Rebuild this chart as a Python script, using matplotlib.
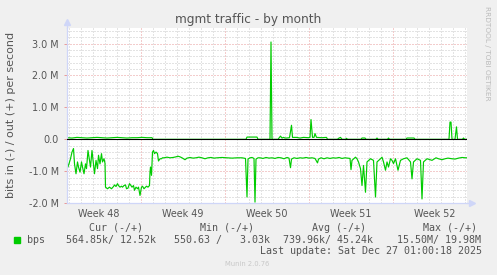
import matplotlib
matplotlib.use('Agg')
import matplotlib.pyplot as plt
import numpy as np

# time axis in hours from the left edge of the graph (2 h per pixel, 800 h shown)
# values in Mbit/s; "in" is drawn downwards, "out" upwards
in_pts = [
    (0, 0.66), (2, 0.87), (5, 0.71), (7, 0.61), (10, 0.40), (13, 0.29), (15, 0.77),
    (18, 1.08), (21, 0.71), (23, 0.87), (26, 1.03), (29, 0.71), (31, 0.87), (34, 1.08),
    (37, 0.77), (39, 0.92), (42, 0.35), (45, 0.66), (47, 0.87), (50, 0.35), (53, 0.77),
    (55, 1.08), (58, 0.66), (61, 0.92), (63, 0.50), (66, 0.77), (69, 0.45), (71, 0.71),
    (74, 0.61), (76, 0.75),
    (77, 1.50), (81, 1.55), (85, 1.50), (89, 1.55), (93, 1.48), (95, 1.43), (98, 1.48),
    (101, 1.39), (103, 1.45), (106, 1.50), (109, 1.47), (111, 1.50), (114, 1.45),
    (117, 1.43), (119, 1.55), (122, 1.53), (125, 1.39), (127, 1.43), (130, 1.50),
    (133, 1.45), (135, 1.60), (138, 1.50), (141, 1.55), (143, 1.50), (146, 1.76),
    (149, 1.50), (151, 1.47), (154, 1.55), (157, 1.50), (159, 1.47), (162, 1.50),
    (165, 1.45), (166, 1.03), (167, 0.87), (169, 1.13), (171, 0.40), (173, 0.35),
    (175, 0.45), (178, 0.40), (181, 0.45), (183, 0.68), (186, 0.61), (189, 0.61),
    (191, 0.58), (194, 0.58),
    (200, 0.56), (206, 0.58), (212, 0.57), (218, 0.55), (222, 0.53), (226, 0.55),
    (230, 0.58), (236, 0.64), (240, 0.59), (246, 0.57), (252, 0.59), (258, 0.58),
    (264, 0.56), (270, 0.58), (276, 0.61), (282, 0.58), (288, 0.57), (294, 0.59),
    (300, 0.58), (310, 0.57), (320, 0.58), (330, 0.59), (340, 0.58), (350, 0.58),
    (357, 0.60), (360, 1.81), (362, 0.62), (366, 0.58), (370, 0.57), (374, 0.60),
    (376, 1.97), (378, 0.62), (382, 0.58),
    (386, 0.58), (392, 0.60), (398, 0.57), (404, 0.59), (410, 0.58), (416, 0.60),
    (422, 0.57), (428, 0.58), (434, 0.61), (440, 0.57), (444, 0.59), (447, 0.89),
    (449, 0.62), (454, 0.58), (460, 0.60), (466, 0.58), (472, 0.59), (478, 0.57),
    (484, 0.59), (490, 0.58), (496, 0.60), (501, 0.74), (503, 0.62), (508, 0.58),
    (514, 0.61), (520, 0.58), (526, 0.60), (532, 0.58), (538, 0.59), (544, 0.57),
    (550, 0.60), (556, 0.58), (562, 0.59), (566, 0.60), (568, 0.95), (570, 0.66),
    (577, 0.56), (580, 0.61), (583, 0.71), (587, 0.92), (590, 1.45), (593, 0.82),
    (597, 1.66), (600, 0.71), (607, 0.61), (613, 0.66), (617, 1.81), (620, 0.71),
    (627, 0.61), (630, 0.56), (633, 0.71), (637, 0.97), (640, 0.71), (643, 0.87),
    (647, 0.61), (650, 0.66), (653, 0.76), (657, 0.61), (662, 0.97), (667, 0.66),
    (673, 0.61), (680, 0.58), (687, 0.71), (690, 1.24), (693, 0.71), (700, 0.61),
    (707, 0.66), (710, 1.87), (713, 0.71), (720, 0.61), (730, 0.66), (738, 0.58),
    (743, 0.61), (750, 0.64), (756, 0.61), (762, 0.59), (770, 0.61), (776, 0.62),
    (783, 0.59), (790, 0.57), (797, 0.58), (800, 0.58),
]

out_pts = [
    (0, 0.05), (10, 0.04), (20, 0.06), (30, 0.05), (40, 0.04), (50, 0.05), (60, 0.06),
    (70, 0.05), (80, 0.04), (90, 0.05), (100, 0.06), (110, 0.05), (120, 0.04),
    (130, 0.05), (140, 0.05), (150, 0.06), (160, 0.05), (170, 0.05), (172, 0.0),
    (358, 0.0), (360, 0.07), (380, 0.07), (382, 0.0),
    (406, 0.0), (408, 3.05), (410, 0.0), (422, 0.0), (425, 0.06), (427, 0.10),
    (430, 0.04), (433, 0.06), (436, 0.04), (439, 0.04), (445, 0.05), (449, 0.44),
    (451, 0.06), (459, 0.06), (466, 0.04), (473, 0.06), (483, 0.05), (486, 0.06),
    (488, 0.62), (491, 0.06), (494, 0.06), (496, 0.18), (499, 0.06), (510, 0.05),
    (519, 0.06), (521, 0.0), (541, 0.0), (543, 0.03), (547, 0.06), (550, 0.0),
    (557, 0.0), (559, 0.03), (561, 0.0), (588, 0.0), (590, 0.04), (596, 0.04),
    (598, 0.0), (618, 0.0), (620, 0.04), (622, 0.0), (641, 0.0), (643, 0.04),
    (645, 0.0), (678, 0.0), (680, 0.04), (694, 0.04), (696, 0.0), (764, 0.0),
    (766, 0.54), (768, 0.54), (770, 0.0), (776, 0.0), (779, 0.39), (781, 0.0),
    (791, 0.0), (793, 0.04), (795, 0.0), (800, 0.0),
]

week_labels = ['Week 48', 'Week 49', 'Week 50', 'Week 51', 'Week 52']
week_starts = [148, 316, 484, 652]
y_ticks = [-2, -1, 0, 1, 2, 3]
y_labels = ['-2.0 M', '-1.0 M', '0.0', '1.0 M', '2.0 M', '3.0 M']

legend_head = ['Cur (-/+)', 'Min (-/+)', 'Avg (-/+)', 'Max (-/+)']
legend_vals = ['564.85k/ 12.52k', '550.63 /   3.03k', '739.96k/ 45.24k', '15.50M/ 19.98M']

GREEN = '#00CC00'
FONT = '#555555'
AXIS = '#CFD6F8'
W, H = 497, 275


def px(x, y):
    return x / W, 1 - y / H


def main():
    in_h, in_v = np.array(in_pts).T
    out_h, out_v = np.array(out_pts).T

    fig = plt.figure(figsize=(W / 100, H / 100), dpi=100, facecolor='#F0F0F0')
    ax = fig.add_axes([67 / W, (H - 203.1) / H, 400 / W, 175.45 / H])
    ax.set_facecolor('white')
    ax.set_xlim(0, 800)
    ax.set_ylim(-2.0, 3.5)

    # grid
    dots = (0, (1, 2))
    for h in range(4, 800, 24):
        if h not in week_starts:
            ax.axvline(h, color='#C8C8C8', lw=0.72, ls=dots, zorder=1)
    for h in week_starts:
        ax.axvline(h, color='#E89A9A', lw=0.72, ls=dots, zorder=1)
    for v in np.arange(-1.8, 3.5, 0.2):
        if abs(v - round(v)) > 1e-6:
            ax.axhline(v, color='#C8C8C8', lw=0.72, ls=dots, zorder=1)
    for v in [-1, 1, 2, 3]:
        ax.axhline(v, color='#E89A9A', lw=0.72, ls=dots, zorder=1)

    ax.plot(in_h, -in_v, color=GREEN, lw=0.85, zorder=2)
    ax.plot(out_h, out_v, color=GREEN, lw=0.85, zorder=2)
    ax.axhline(0, color='black', lw=0.8, zorder=3)

    for s in ['top', 'right']:
        ax.spines[s].set_visible(False)
    for s in ['left', 'bottom']:
        ax.spines[s].set_color(AXIS)
        ax.spines[s].set_linewidth(0.9)
    ax.plot([0, 0], [1, 1.03], color=AXIS, lw=0.9, transform=ax.transAxes, clip_on=False)
    ax.plot([0], [1.03], marker='^', ms=5, color=AXIS, transform=ax.transAxes, clip_on=False)
    ax.plot([1, 1.012], [0, 0], color=AXIS, lw=0.9, transform=ax.transAxes, clip_on=False)
    ax.plot([1.012], [0], marker='>', ms=5, color=AXIS, transform=ax.transAxes, clip_on=False)

    ax.set_yticks(y_ticks)
    ax.set_yticklabels(y_labels)
    centers = [s - 84 for s in week_starts] + [week_starts[-1] + 84]
    ax.set_xticks(centers)
    ax.set_xticklabels(week_labels)
    ax.tick_params(axis='y', length=2, width=0.7, color='#E89A9A', pad=4,
                   labelsize=6.9, labelcolor=FONT)
    ax.tick_params(axis='x', length=0, pad=4, labelsize=6.9, labelcolor=FONT)

    fig.text(*px(248, 19.5), 'mgmt traffic - by month', ha='center', va='center',
             fontsize=8.7, color=FONT)
    fig.text(*px(11, 115), 'bits in (-) / out (+) per second', ha='center', va='center',
             rotation=90, fontsize=8, color=FONT)
    fig.text(*px(487.5, 53.5), 'RRDTOOL / TOBI OETIKER', ha='center', va='center',
             rotation=270, fontsize=5.3, color='#BBBBBB')

    mono = dict(family='DejaVu Sans Mono', fontsize=7.2, color=FONT, va='center')
    for x, t in zip([89, 200.5, 311.5, 423], legend_head):
        fig.text(*px(x, 228), t, ha='left', **mono)
    fig.patches.append(plt.Rectangle(px(14, 243), 6 / W, 6 / H, color=GREEN,
                                     transform=fig.transFigure, figure=fig))
    fig.text(*px(26.5, 240), 'bps', ha='left', **mono)
    for x, t in zip([66.5, 174.5, 283, 397], legend_vals):
        fig.text(*px(x, 240), t, ha='left', **mono)
    fig.text(*px(482.5, 251), 'Last update: Sat Dec 27 01:00:18 2025', ha='right', **mono)
    fig.text(*px(247.5, 264.5), 'Munin 2.0.76', ha='center', va='center',
             fontsize=4.9, color='#C8C8C8')

    fig.savefig('out.png', dpi=100, facecolor=fig.get_facecolor())


if __name__ == '__main__':
    main()
